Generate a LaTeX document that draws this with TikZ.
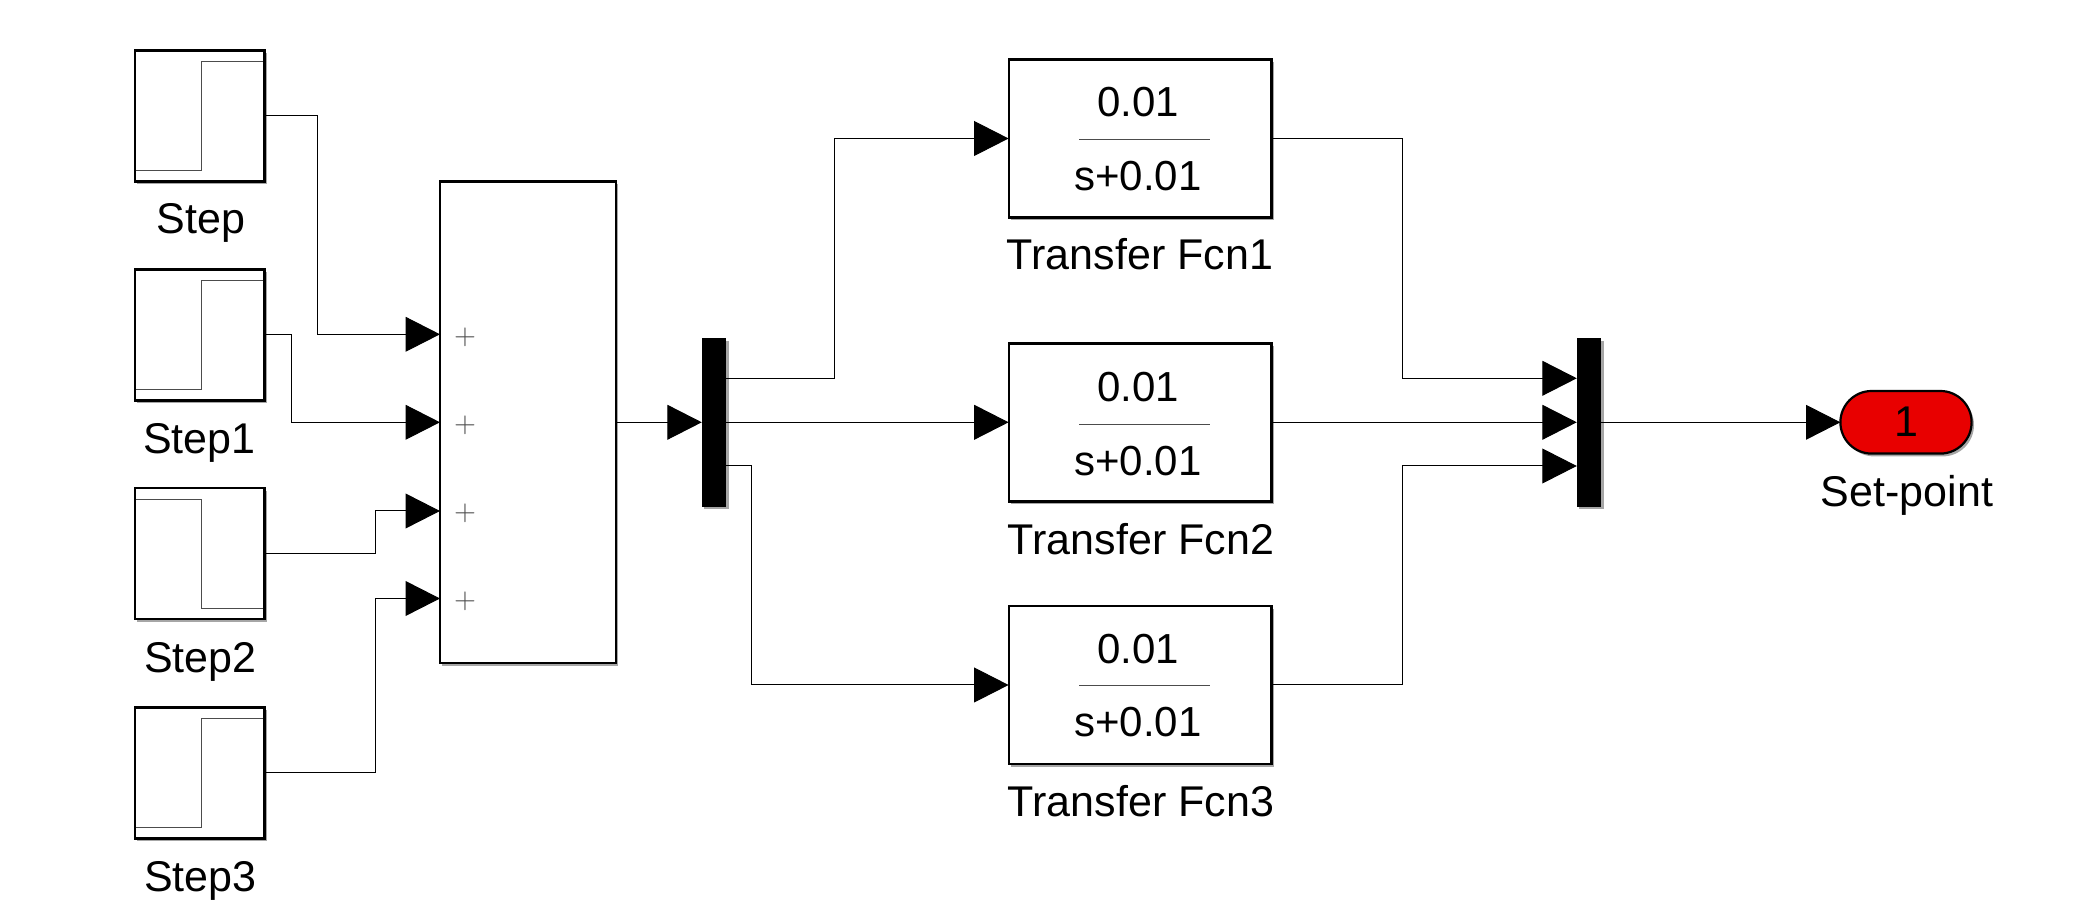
\documentclass[tikz,border=0pt]{standalone}
\usepackage{fontspec}
\setmainfont{Liberation Sans}
\usetikzlibrary{arrows.meta,shapes,positioning,shadows}
\definecolor{portred}{RGB}{232,0,0}
\tikzset{
  blockshadow/.style={drop shadow={shadow xshift=1.2pt,shadow yshift=-1.4pt,opacity=0.35,fill=black}},
  stepbox/.style={draw,line width=1.1pt,fill=white,inner sep=0pt,outer sep=0pt,minimum width=64.75pt,minimum height=65.5pt,blockshadow},
  sumbox/.style={draw,line width=1.1pt,fill=white,inner sep=0pt,outer sep=0pt,minimum width=88pt,minimum height=240.7pt,blockshadow},
  tfbox/.style={draw,line width=1.1pt,fill=white,inner sep=0pt,outer sep=0pt,minimum width=131.4pt,minimum height=79pt,blockshadow},
  muxbar/.style={fill=black,inner sep=0pt,outer sep=0pt,minimum width=12.2pt,minimum height=84.4pt,blockshadow},
  portbox/.style={rounded rectangle,draw,line width=1.1pt,fill=portred,inner sep=0pt,outer sep=0pt,minimum width=65.6pt,minimum height=31.3pt,blockshadow},
  wave/.style={line width=0.5pt,draw=black!70},
  wire/.style={line width=0.5pt,-{Triangle[length=17.2pt,width=17.4pt]}},
  lbl/.style={anchor=base,font=\fontsize{21.5}{25}\selectfont,inner sep=0pt},
  frac/.style={anchor=base,font=\fontsize{21}{25}\selectfont,inner sep=0pt},
  plus/.style={font=\fontsize{13.5}{16}\selectfont,text=black!70,inner sep=0pt}
}
\begin{document}
\begin{tikzpicture}[x=0.5pt,y=-0.5pt]
\useasboundingbox (0,0) rectangle (2085,924);
\fill [white] (0,0) rectangle (2085,924);

% sources
\node [stepbox] (step0) at (199.75,116) {};
\node [stepbox] (step1) at (199.75,335) {};
\node [stepbox] (step2) at (199.75,553.7) {};
\node [stepbox] (step3) at (199.75,773) {};
\draw [wave] (135.6,171) -- (201.4,171) -- (201.4,61.7) -- (263,61.7);
\draw [wave] (135.6,390) -- (201.4,390) -- (201.4,280.7) -- (263,280.7);
\draw [wave] (135.6,499.7) -- (201.4,499.7) -- (201.4,608.7) -- (263,608.7);
\draw [wave] (135.6,828) -- (201.4,828) -- (201.4,718.7) -- (263,718.7);
\node [lbl] (labstep0) at (201,234) {Step};
\node [lbl] (labstep1) at (199.5,454) {Step1};
\node [lbl] (labstep2) at (200.5,673) {Step2};
\node [lbl] (labstep3) at (200.5,892) {Step3};

% sum
\node [sumbox] (sum) at (528,422.3) {};
\coordinate (sumin0) at (sum.west |- 0,334.3);
\coordinate (sumin1) at (sum.west |- 0,422.3);
\coordinate (sumin2) at (sum.west |- 0,511);
\coordinate (sumin3) at (sum.west |- 0,598.5);
\node [plus] (plus0) at (465,337.5) {$+$};
\node [plus] (plus1) at (465,425.5) {$+$};
\node [plus] (plus2) at (465,513.5) {$+$};
\node [plus] (plus3) at (465,601.5) {$+$};

% mux and demux
\node [muxbar] (demux) at (714,422.3) {};
\node [muxbar] (mux) at (1589,422.3) {};
\coordinate (demuxout0) at (demux.east |- 0,378.3);
\coordinate (demuxout2) at (demux.east |- 0,466);
\coordinate (muxin0) at (mux.west |- 0,378.3);
\coordinate (muxin2) at (mux.west |- 0,466);

% transfer functions
\node [tfbox] (tf1) at (1140,138.5) {};
\node [tfbox] (tf2) at (1140,422.5) {};
\node [tfbox] (tf3) at (1140,685) {};
\draw [wave] (1079,139.3) -- (1210,139.3);
\draw [wave] (1079,424.3) -- (1210,424.3);
\draw [wave] (1079,686) -- (1210,686);
\node [frac] (num1) at (1138,117) {0.01};
\node [frac] (den1) at (1138,190.7) {s+0.01};
\node [frac] (num2) at (1138,401.5) {0.01};
\node [frac] (den2) at (1138,476) {s+0.01};
\node [frac] (num3) at (1138,664) {0.01};
\node [frac] (den3) at (1138,737) {s+0.01};
\node [lbl] (labtf1) at (1140,269.7) {Transfer Fcn1};
\node [lbl] (labtf2) at (1141,555) {Transfer Fcn2};
\node [lbl] (labtf3) at (1141,817) {Transfer Fcn3};

% outport
\node [portbox] (port) at (1906,422.3) {};
\node [lbl] (portnum) at (1906,437) {1};
\node [lbl] (labport) at (1907,507) {Set-point};

% connections
\coordinate (bend0) at (317.8,334.3);
\coordinate (bend1) at (291.4,422.3);
\coordinate (bend2) at (375.6,511);
\coordinate (bend3) at (375.6,598.5);
\draw [wire] (step0.east) -| (bend0) -- (sumin0);
\draw [wire] (step1.east) -| (bend1) -- (sumin1);
\draw [wire] (step2.east) -| (bend2) -- (sumin2);
\draw [wire] (step3.east) -| (bend3) -- (sumin3);
\draw [wire] (sum.east |- demux.west) -- (demux.west);

\coordinate (bendtop) at (834,138.5);
\coordinate (bendlow) at (751,685);
\draw [wire] (demuxout0) -| (bendtop) -- (tf1.west);
\draw [wire] (demux.east) -- (demux.east -| tf2.west);
\draw [wire] (demuxout2) -| (bendlow) -- (tf3.west);

\coordinate (righttop) at (1402.5,378.3);
\coordinate (rightlow) at (1402.5,466);
\draw [wire] (tf1.east) -| (righttop) -- (muxin0);
\draw [wire] (tf2.east |- mux.west) -- (mux.west);
\draw [wire] (tf3.east) -| (rightlow) -- (muxin2);
\draw [wire] (mux.east) -- (port.west);
\end{tikzpicture}
\end{document}
